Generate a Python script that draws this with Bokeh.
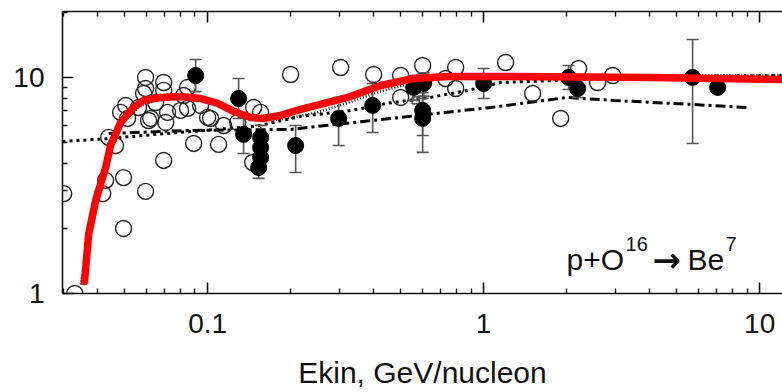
from bokeh.plotting import figure
from bokeh.models import Range1d, FixedTicker, LogAxis, Label, CustomJSTickFormatter
from bokeh.embed import file_html
from bokeh.resources import INLINE

# ---- data ----
red_x = [0.0358, 0.0371, 0.0393, 0.0427, 0.0445, 0.0484, 0.0539, 0.0586, 0.0676, 0.0798,
         0.0943, 0.1087, 0.1242, 0.1432, 0.1582, 0.1838, 0.2173, 0.3216, 0.4236, 0.5577,
         0.741, 1.2525, 4.03, 12.11]
red_y = [1.137, 1.896, 2.696, 3.83, 4.84, 6.19, 7.26, 7.83, 8.08, 8.17,
         7.99, 7.58, 6.96, 6.53, 6.46, 6.67, 7.11, 8.08, 9.18, 9.89,
         10.1, 10.1, 10.0, 9.79]

fine_x = [0.0347, 0.0375, 0.0401, 0.0438, 0.0494, 0.0574, 0.0676, 0.085, 0.1, 0.115,
          0.13, 0.15, 0.17, 0.2, 0.25, 0.33, 0.42, 0.55, 0.7, 1.0, 2.0, 5.0, 12.1]
fine_y = [1.10, 1.9, 2.70, 4.50, 6.20, 7.45, 7.95, 8.1, 7.95, 7.5,
          7.0, 6.5, 6.35, 6.5, 6.9, 7.7, 8.6, 9.4, 9.85, 10.1, 10.2, 10.2, 10.2]

coarse_x = [0.0298, 0.0427, 0.07, 0.1, 0.15, 0.217, 0.33, 0.45, 0.64, 0.875,
            1.15, 1.9, 3.0, 6.0, 12.1]
coarse_y = [5.06, 5.2, 5.5, 5.7, 5.95, 6.6, 7.03, 7.6, 8.08, 8.7,
            9.48, 9.7, 9.9, 10.1, 10.2]

dd_x = [0.0438, 0.0832, 0.2, 0.46, 1.06, 1.5, 2.0, 2.96, 5.7, 9.05]
dd_y = [5.5, 5.68, 5.75, 6.46, 7.26, 7.7, 8.08, 7.83, 7.5, 7.26]

open_x = [0.0301, 0.0330, 0.0417, 0.0427, 0.0496, 0.0496, 0.0596, 0.0693, 0.0438, 0.0464,
          0.0484, 0.0505, 0.0513, 0.0596, 0.0693, 0.0596, 0.0586, 0.0562, 0.0611, 0.0705,
          0.0648, 0.0693, 0.0622, 0.0716, 0.0846, 0.0819, 0.0846, 0.0943, 0.1025, 0.0890,
          0.1096, 0.0798, 0.1, 0.1143, 0.1285, 0.1468, 0.1556, 0.1456, 0.1998, 0.3033,
          0.3995, 0.5005, 0.5005, 0.6012, 0.7284, 0.7920, 0.7920, 1.201, 1.505, 1.901,
          2.209, 2.588, 2.934]
open_y = [2.90, 1.00, 2.90, 3.34, 3.44, 2.00, 2.97, 4.13, 5.28, 4.84,
          6.89, 7.42, 6.46, 10.0, 9.48, 8.89, 8.43, 7.26, 6.32, 6.19,
          7.66, 8.71, 6.46, 6.89, 7.19, 8.25, 8.99, 7.42, 6.46, 4.95,
          4.90, 7.04, 6.53, 5.99, 6.19, 7.26, 6.89, 4.04, 10.32, 11.12,
          10.32, 10.21, 8.08, 11.36, 9.89, 11.12, 8.89, 11.73, 8.43, 6.46,
          11.01, 9.48, 10.21]

sq_x = [0.567]
sq_y = [7.83]

fill_x = [0.0905, 0.1295, 0.135, 0.1556, 0.1556, 0.1556, 0.1531, 0.2084, 0.2983, 0.3962,
          0.5578, 0.6062, 0.6012, 0.6012, 1.0, 2.032, 2.191, 5.716, 7.044]
fill_y = [10.21, 7.99, 5.45, 5.28, 4.74, 4.26, 3.83, 4.84, 6.46, 7.42,
          8.99, 9.38, 7.04, 6.46, 9.38, 10.0, 8.89, 10.0, 8.99]
fill_lo = [8.6, 6.46, 4.45, 4.8, 4.74, 4.26, 3.41, 3.63, 4.84, 5.56,
           7.83, 8.2, 5.39, 4.50, 7.99, 8.8, 8.08, 4.95, 8.99]
fill_hi = [12.12, 9.89, 6.5, 6.0, 4.74, 4.26, 4.3, 5.99, 8.08, 9.38,
           10.2, 10.5, 8.5, 8.0, 11.01, 11.36, 9.89, 14.99, 8.99]

x_major = [0.1, 1, 10]
y_major = [1, 10]

# ---- figure ----
FONT = "Liberation Sans"
p = figure(width=782, height=392, x_axis_type="log", y_axis_type="log",
           x_range=Range1d(0.0298, 12.1), y_range=Range1d(1.0, 20.2),
           output_backend="svg", toolbar_location=None,
           min_border_left=62, min_border_right=0, min_border_top=11, min_border_bottom=99)
p.outline_line_color = None
p.xgrid.visible = False
p.ygrid.visible = False
p.background_fill_color = "white"
p.border_fill_color = "white"

x_minor = [m * 10.0 ** e for e in (-2, -1, 0) for m in range(2, 10)] + [20.0]
y_minor = [m * 10.0 ** e for e in (0, 1) for m in range(2, 10)]
fmt = CustomJSTickFormatter(code="return String(tick);")
blank = CustomJSTickFormatter(code="return '';")


def style_axis(ax, labels=True):
    ax.axis_line_width = 1.6
    ax.axis_line_color = "#111111"
    ax.major_tick_line_color = "#111111"
    ax.minor_tick_line_color = "#111111"
    ax.major_tick_line_width = 1.6
    ax.minor_tick_line_width = 1.4
    ax.major_tick_in = 11
    ax.major_tick_out = 0
    ax.minor_tick_in = 5
    ax.minor_tick_out = 0
    if labels:
        ax.formatter = fmt
        ax.major_label_text_font = FONT
        ax.major_label_text_font_size = "28px"
        ax.major_label_text_color = "#111111"
    else:
        ax.formatter = blank
        ax.major_label_standoff = 0


xax = p.xaxis[0]
xax.ticker = FixedTicker(ticks=x_major, minor_ticks=x_minor)
style_axis(xax)
xax.major_label_standoff = 20
xax.axis_label = "Ekin, GeV/nucleon"
xax.axis_label_text_font = FONT
xax.axis_label_text_font_size = "30px"
xax.axis_label_text_font_style = "normal"
xax.axis_label_text_color = "#111111"
xax.axis_label_standoff = 20

yax = p.yaxis[0]
yax.ticker = FixedTicker(ticks=y_major, minor_ticks=y_minor)
style_axis(yax)
yax.major_label_standoff = 18

top = LogAxis(ticker=FixedTicker(ticks=x_major, minor_ticks=x_minor))
style_axis(top, labels=False)
p.add_layout(top, "above")

# ---- curves ----
p.line(coarse_x, coarse_y, line_color="black", line_width=3, line_dash="3 4")
p.line(dd_x, dd_y, line_color="black", line_width=3, line_dash="10 4 3 4")
p.line(fine_x, fine_y, line_color="black", line_width=2.5, line_dash="1 2")

# ---- open data ----
p.scatter(open_x, open_y, marker="circle", size=16, fill_color=None,
          line_color="#222222", line_width=1.4)
p.scatter(sq_x, sq_y, marker="square", size=7, fill_color=None,
          line_color="#222222", line_width=1.2)

# ---- filled data with error bars ----
p.segment(x0=fill_x, y0=fill_lo, x1=fill_x, y1=fill_hi, line_color="#555555", line_width=1.6)
p.scatter(fill_x, fill_lo, marker="dash", size=12, line_color="#555555", line_width=1.6)
p.scatter(fill_x, fill_hi, marker="dash", size=12, line_color="#555555", line_width=1.6)
p.scatter(fill_x, fill_y, marker="circle", size=16, fill_color="black", line_color="black")

# ---- model curve ----
p.line(red_x, red_y, line_color="#ff0000", line_width=7.5, line_join="round", line_cap="round")

# ---- reaction label ----
lx, ly = 1.998, 1.43
common = dict(x=lx, y=ly, text_color="#111111", text_baseline="alphabetic")
p.add_layout(Label(text="p+O", text_font=FONT, text_font_size="30px", **common))
p.add_layout(Label(text="16", x_offset=59, y_offset=16, text_font=FONT,
                   text_font_size="20px", **common))
p.add_layout(Label(text="\u2192", x_offset=86, text_font="DejaVu Sans",
                   text_font_style="bold", text_font_size="34px", **common))
p.add_layout(Label(text="Be", x_offset=121, text_font=FONT, text_font_size="30px", **common))
p.add_layout(Label(text="7", x_offset=159, y_offset=16, text_font=FONT,
                   text_font_size="20px", **common))

open("out.html", "w").write(file_html(p, INLINE))
